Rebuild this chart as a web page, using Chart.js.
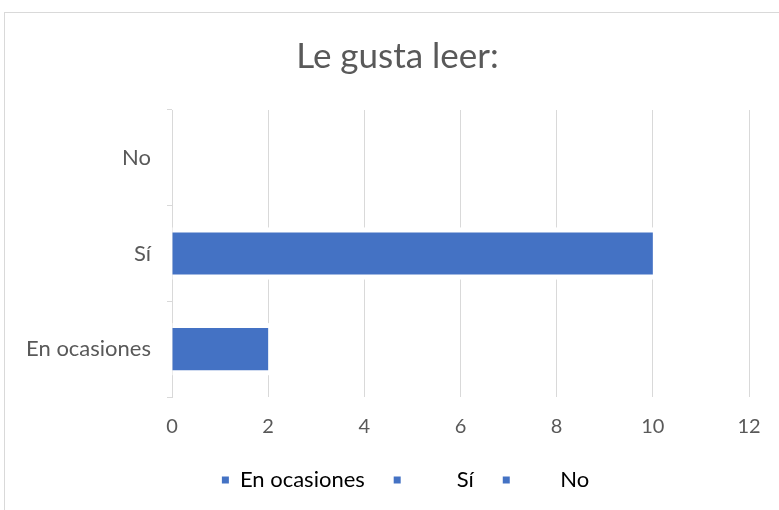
<!DOCTYPE html>
<html>
<head>
<meta charset="utf-8">
<script src="https://cdn.jsdelivr.net/npm/chart.js@4.4.1/dist/chart.umd.min.js"></script>
<style>
  body { margin: 0; background: #fff; }
  #frame { position: absolute; left: 4px; top: 12px; width: 800px; height: 520px; border: 1px solid #d9d9d9; }
  #wrap { position: absolute; left: 0; top: 0; width: 779px; height: 510px; }
</style>
</head>
<body>
<div id="frame"></div>
<div id="wrap"><canvas id="barChart" width="779" height="510"></canvas></div>
<script>
  // data
  const categories = ['En ocasiones', 'Sí', 'No'];
  const values = [2, 10, 0];
  const xTicks = [0, 2, 4, 6, 8, 10, 12];

  const FONT = 'Lato, Carlito, Calibri, sans-serif';
  const TEXT = '#595959';
  const GRID = '#d9d9d9';
  const BLUE = '#4472C4';

  // white halo round the bars, like the Excel original
  const barHalo = {
    id: 'barHalo',
    beforeDatasetsDraw(chart) {
      const ctx = chart.ctx;
      ctx.save();
      ctx.fillStyle = '#fff';
      chart.getDatasetMeta(0).data.forEach(function (el) {
        const p = el.getProps(['x', 'y', 'base', 'height'], true);
        const w = Math.abs(p.x - p.base);
        if (w < 1) return;
        ctx.fillRect(Math.min(p.x, p.base), p.y - p.height / 2 - 5, w + 1, p.height + 10);
      });
      ctx.restore();
    }
  };

  // Excel centres title + legend on the frame, not on the canvas
  const nudge = {
    id: 'nudge',
    afterLayout(chart) {
      if (chart.legend) { chart.legend.left += 31; chart.legend.right += 31; }
      if (chart.titleBlock) { chart.titleBlock.left += 23; chart.titleBlock.right += 23; }
    }
  };

  // Excel spreads the legend entries out, spaces do the same here
  function legendText(c, i) {
    if (i === 0) return c + '   ';
    if (i === 1) return '        ' + c + '   ';
    return '       ' + c;
  }

  const ctx = document.getElementById('barChart').getContext('2d');
  new Chart(ctx, {
    type: 'bar',
    data: {
      labels: categories,
      datasets: [{
        label: 'Le gusta leer',
        data: values,
        backgroundColor: BLUE,
        barPercentage: 0.44,
        categoryPercentage: 1
      }]
    },
    options: {
      indexAxis: 'y',
      responsive: false,
      animation: false,
      devicePixelRatio: 1,
      layout: { padding: { top: 0, left: 0, right: 30, bottom: 9 } },
      plugins: {
        title: {
          display: true,
          text: 'Le gusta leer:',
          color: TEXT,
          font: { family: FONT, size: 35, weight: 'normal' },
          padding: { top: 36, bottom: 32 }
        },
        legend: {
          position: 'bottom',
          labels: {
            color: TEXT,
            font: { family: FONT, size: 22 },
            boxWidth: 7,
            boxHeight: 7,
            padding: 12,
            generateLabels: function () {
              return categories.map(function (c, i) {
                return {
                  text: legendText(c, i),
                  fillStyle: BLUE,
                  strokeStyle: BLUE,
                  lineWidth: 0,
                  index: i
                };
              });
            }
          }
        },
        tooltip: { enabled: false }
      },
      scales: {
        x: {
          min: 0,
          max: 12,
          afterBuildTicks: function (scale) {
            scale.ticks = xTicks.map(function (v) { return { value: v }; });
          },
          grid: { color: GRID, drawTicks: false },
          border: { display: false },
          ticks: { color: TEXT, font: { family: FONT, size: 20 }, padding: 18 }
        },
        y: {
          reverse: true,
          afterFit: function (scale) { scale.width = 172; },
          grid: { offset: true, drawOnChartArea: false, drawTicks: true, tickLength: 5, color: GRID },
          border: { display: true, color: GRID },
          ticks: { color: TEXT, font: { family: FONT, size: 22 }, padding: 16 }
        }
      }
    },
    plugins: [barHalo, nudge]
  });
</script>
</body>
</html>
